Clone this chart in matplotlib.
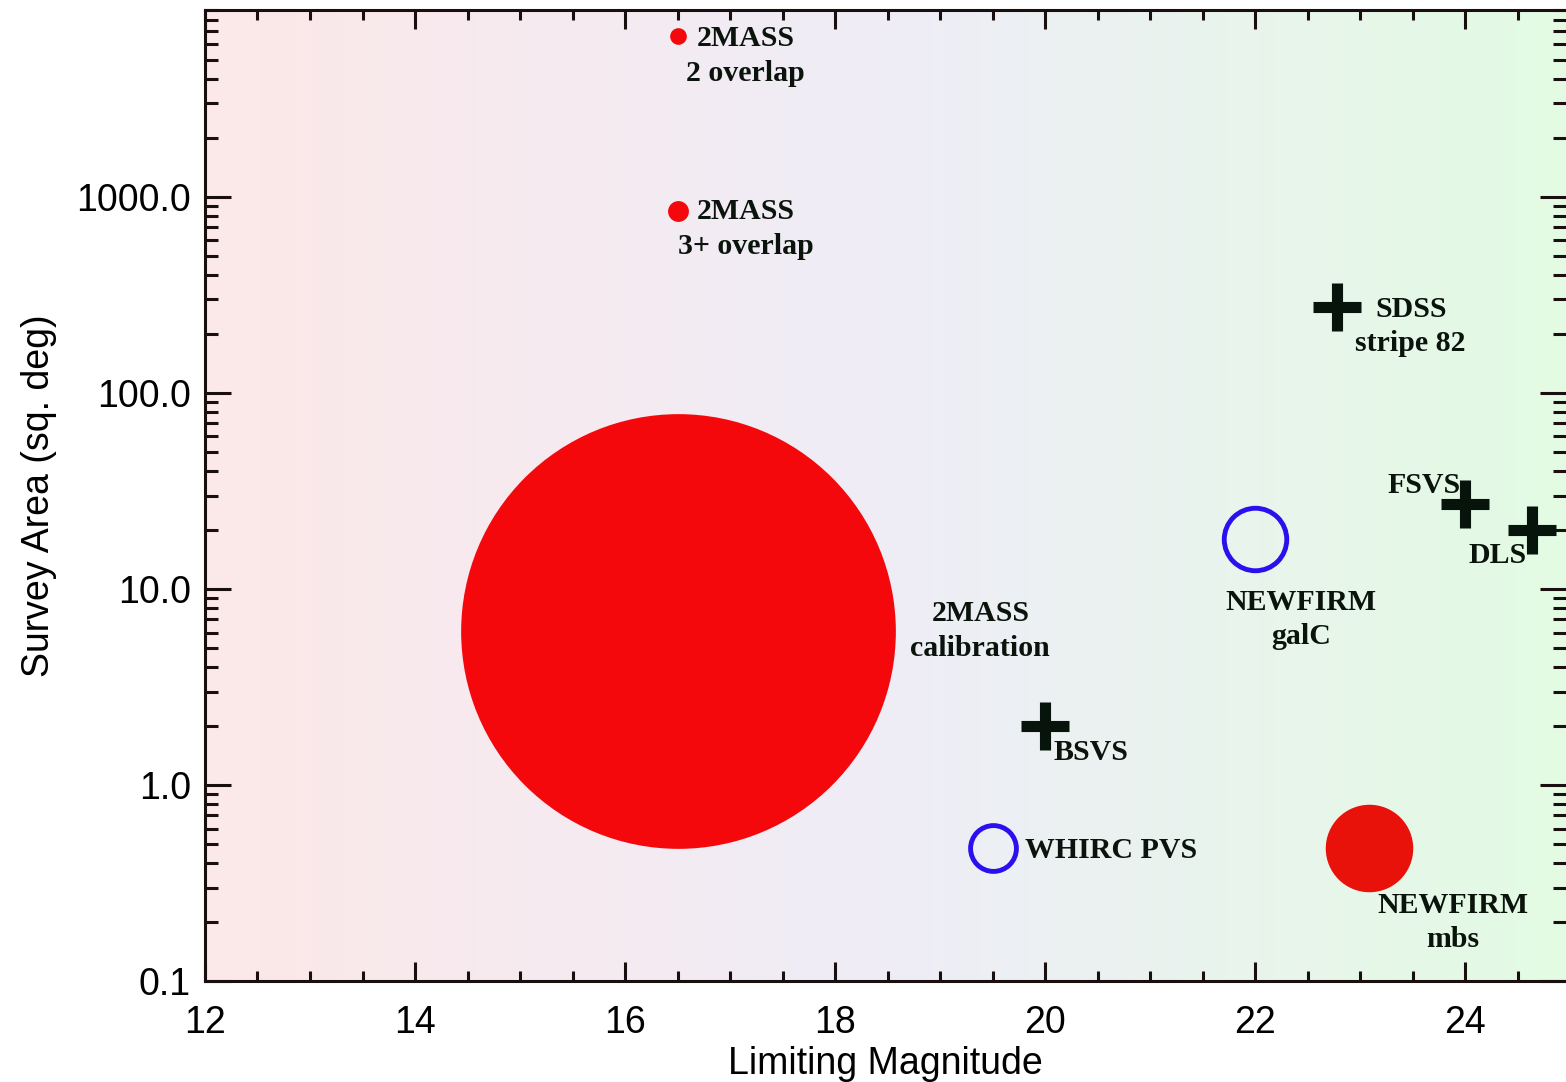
import matplotlib
matplotlib.use('Agg')
import matplotlib.pyplot as plt
from matplotlib.colors import LinearSegmentedColormap
from matplotlib.ticker import MultipleLocator, LogLocator, FixedLocator, FuncFormatter, NullFormatter
import numpy as np

# survey data (limiting magnitude, area in sq. deg)
red_names = ['2MASS\n2 overlap', '2MASS\n3+ overlap', '2MASS\ncalibration', 'NEWFIRM\nmbs']
red_mag = [16.5, 16.5, 16.5, 23.08]
red_area = [6600, 850, 6.1, 0.48]
red_size = [12, 15, 313, 63]          # marker diameters (pt)
red_color = ['#f5080c', '#f5080c', '#f5080c', '#e8120a']
red_offset = [(49, -14), (49, -13), (218, 0), (61, -54)]

blue_names = ['WHIRC PVS', 'NEWFIRM\ngalC']
blue_mag = [19.5, 22.0]
blue_area = [0.48, 18]
blue_size = [33, 45]
blue_offset = [(85, -2), (33, -58)]

plus_names = ['BSVS', 'SDSS\nstripe 82', 'FSVS', 'DLS']
plus_mag = [20.0, 22.78, 24.0, 24.64]
plus_area = [2.0, 275, 27, 20]
plus_offset = [(33, -19), (53, -14), (-30, 14), (-25, -18)]

ytick_vals = [0.1, 1.0, 10.0, 100.0, 1000.0]

plt.rcParams['font.family'] = ['Liberation Sans', 'DejaVu Sans']

fig = plt.figure(figsize=(15.66, 10.82), dpi=100)
ax = fig.add_axes([0.1309, 0.0933, 0.8691, 0.8975])

# background gradient pink -> lavender -> green
cmap = LinearSegmentedColormap.from_list('bg', ['#fce8e8', '#efedf7', '#e3fbe3'])
grad = np.linspace(0, 1, 256).reshape(1, -1)
ax.imshow(grad, cmap=cmap, aspect='auto', extent=[0, 1, 0, 1],
          transform=ax.transAxes, zorder=0)

ax.set_yscale('log')
ax.set_xlim(12, 24.96)
ax.set_ylim(0.1, 9000)

txt_kw = dict(textcoords='offset points', ha='center', va='center',
              family='Liberation Serif', fontweight='bold', fontsize=21.5,
              color='#0a140c', linespacing=1.36, zorder=5)

for n, x, y, s, c, off in zip(red_names, red_mag, red_area, red_size, red_color, red_offset):
    ax.plot(x, y, 'o', ms=s, color=c, mec='none', zorder=3)
    ax.annotate(n, (x, y), xytext=off, **txt_kw)

for n, x, y, s, off in zip(blue_names, blue_mag, blue_area, blue_size, blue_offset):
    ax.plot(x, y, 'o', ms=s, mfc='none', mec='#2a10ee', mew=3.5, zorder=3)
    ax.annotate(n, (x, y), xytext=off, **txt_kw)

for n, x, y, off in zip(plus_names, plus_mag, plus_area, plus_offset):
    ax.plot(x, y, '+', ms=35, mew=8, color='#06140c', zorder=4)
    ax.annotate(n, (x, y), xytext=off, **txt_kw)

# ticks
ax.xaxis.set_major_locator(MultipleLocator(2))
ax.xaxis.set_minor_locator(MultipleLocator(0.5))
ax.yaxis.set_major_locator(FixedLocator(ytick_vals))
ax.yaxis.set_minor_locator(LogLocator(base=10, subs=np.arange(2, 10)))
ax.yaxis.set_major_formatter(FuncFormatter(lambda v, p: '%.1f' % v))
ax.yaxis.set_minor_formatter(NullFormatter())

ax.tick_params(which='both', direction='in', top=True, right=True,
               color='#1a0f0f', width=2.2, labelsize=27, labelcolor='black')
ax.tick_params(axis='x', which='major', length=14, pad=17)
ax.tick_params(axis='x', which='minor', length=7)
ax.tick_params(axis='y', which='major', length=19, pad=10)
ax.tick_params(axis='y', which='minor', length=9.5)

for sp in ax.spines.values():
    sp.set_linewidth(2.2)
    sp.set_color('#1a0f0f')
ax.spines['right'].set_visible(False)

ax.set_xlabel('Limiting Magnitude', fontsize=27, labelpad=4)
ax.set_ylabel('Survey Area (sq. deg)', fontsize=27, labelpad=14)

fig.savefig('out.png', dpi=100)
